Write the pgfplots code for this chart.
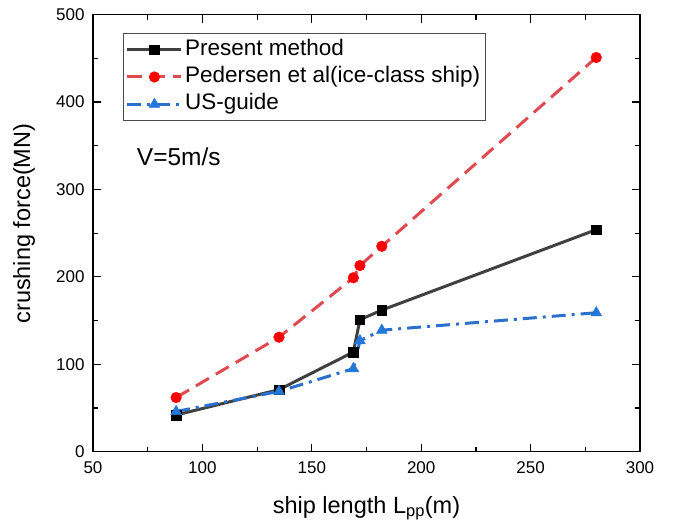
\documentclass[border=0pt]{standalone}
\usepackage{pgfplots}
\pgfplotsset{compat=1.18}
\usepackage{fontspec}
\setmainfont{Liberation Sans}

\definecolor{presentline}{HTML}{404040}
\definecolor{pedline}{HTML}{DE4A50}
\definecolor{pedmark}{HTML}{FF0000}
\definecolor{usline}{HTML}{2A70CC}
\definecolor{usmark}{HTML}{2478D8}

\begin{document}
\begin{tikzpicture}[x=1pt,y=1pt]
\useasboundingbox (-93,-72.3) rectangle (581,451.7);
\begin{axis}[
  at={(0,0)}, anchor=south west,
  scale only axis, width=547pt, height=437pt,
  xmin=50, xmax=300, ymin=0, ymax=500,
  xtick={50,100,...,300}, ytick={0,100,...,500},
  minor x tick num=1, minor y tick num=1,
  tick align=inside,
  major tick length=8pt, minor tick length=5pt,
  every tick/.style={black, line width=1.2pt},
  axis line style={line width=1.4pt},
  /pgf/number format/assume math mode=true,
  tick label style={font=\fontsize{17}{17}\selectfont},
  xticklabel style={yshift=-6pt},
  yticklabel style={xshift=-5pt},
  xlabel={ship length L\textsubscript{pp}(m)},
  ylabel={crushing force(MN)},
  label style={font=\fontsize{23.5}{26}\selectfont},
  xlabel style={at={(axis description cs:0.5,-0.129)}, anchor=center},
  ylabel style={at={(axis description cs:-0.126,0.522)}, anchor=center},
  legend style={at={(rel axis cs:0.054,0.957)}, anchor=north west,
    draw=black!70, line width=0.8pt,
    font=\fontsize{22.5}{25}\selectfont,
    nodes={inner sep=2.2pt, text height=17pt, text depth=6pt}},
  legend cell align=left,
  legend image code/.code={%
    \draw[mark repeat=2, mark phase=2, #1]
      plot coordinates {(0pt,0pt) (27pt,0pt) (54pt,0pt)};},
]

% Present method
\addplot[presentline, line width=3pt, mark=square*,
  mark size=4.8pt, mark options={solid, fill=black, draw=black, line width=0.5pt}]
  coordinates {(88,42) (135,71) (169,114) (172,151) (182,162) (280,254)};
\addlegendentry{Present method}

% Pedersen et al. (ice-class ship)
\addplot[pedline, line width=3pt, dash pattern=on 15pt off 8pt, mark=*,
  mark size=5.3pt, mark options={solid, fill=pedmark, draw=pedmark, line width=0.5pt}]
  coordinates {(88,62) (135,131) (169,199) (172,213) (182,235) (280,451)};
\addlegendentry{Pedersen et al(ice-class ship)}

% US guide
\addplot[usline, line width=3pt, dash pattern=on 14pt off 6pt on 3pt off 6pt,
  mark=triangle*, mark size=6.2pt,
  mark options={solid, fill=usmark, draw=usmark, line width=0.5pt}]
  coordinates {(88,46) (135,69) (169,95) (172,127) (182,139) (280,159)};
\addlegendentry{US-guide}

\node[anchor=west, font=\fontsize{24.5}{26}\selectfont, inner sep=0pt]
  at (axis cs:70,337) {V=5m/s};
\end{axis}
\end{tikzpicture}
\end{document}
